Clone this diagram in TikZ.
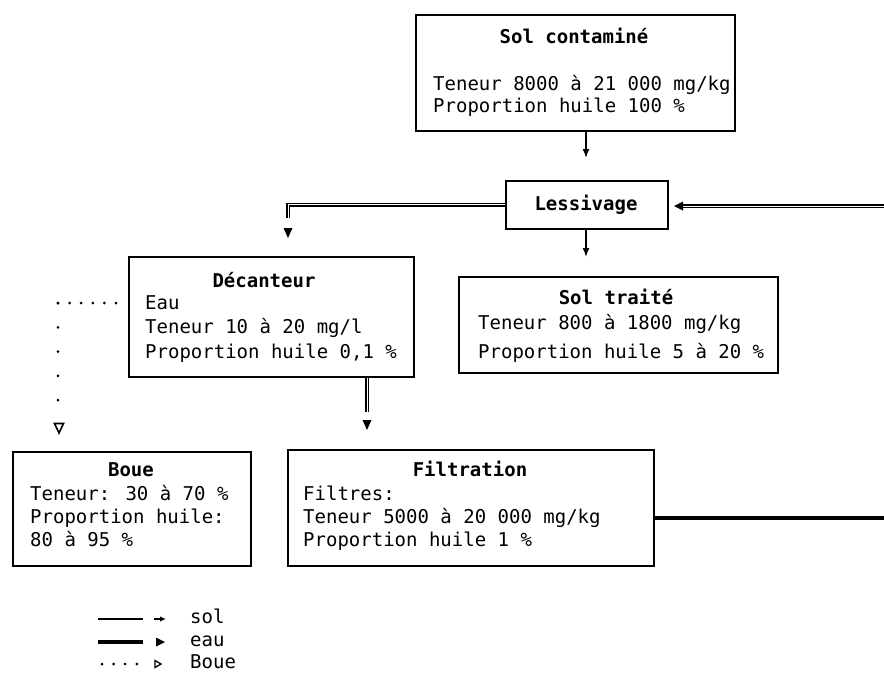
\documentclass[tikz,border=0pt]{standalone}
\usepackage{fontspec}
\newfontfamily\monof{DejaVu Sans Mono}
\usetikzlibrary{arrows.meta}
\begin{document}
\begin{tikzpicture}[x=1pt,y=-1pt,
  box/.style={draw, line width=1.6pt, anchor=north west, inner sep=0pt},
  ttl/.style={font=\monof\bfseries\fontsize{19}{24}\selectfont, anchor=base, inner sep=0pt},
  txt/.style={font=\monof\fontsize{19}{24}\selectfont, anchor=base west, inner sep=0pt},
  solline/.style={line width=1.6pt},
  eauline/.style={double, double distance=1pt, line width=1.4pt},
  eauthick/.style={line width=4.5pt},
  bouedots/.style={line width=3pt, line cap=round},
  soltip/.style={-{Latex[length=9pt,width=7pt]}}
]
\useasboundingbox (0,0) rectangle (884,673);

% boxes
\node[box, minimum width=319pt, minimum height=116pt] (sc) at (415,14) {};
\node[box, minimum width=162pt, minimum height=48pt] (les) at (505,180) {};
\node[box, minimum width=319pt, minimum height=96pt] (st) at (458,276) {};
\node[box, minimum width=285pt, minimum height=120pt] (dec) at (128,256) {};
\node[box, minimum width=238pt, minimum height=114pt] (boue) at (12,451) {};
\node[box, minimum width=366pt, minimum height=116pt] (fil) at (287,449) {};

% texts
\node[ttl] (sct) at (574,43) {Sol contaminé};
\node[txt] (sc1) at (433,90) {Teneur 8000 à 21 000 mg/kg};
\node[txt] (sc2) at (433,112) {Proportion huile 100 \%};

\node[ttl] (lest) at (586,210) {Lessivage};

\node[ttl] (stt) at (616,304) {Sol traité};
\node[txt] (st1) at (478,329) {Teneur 800 à 1800 mg/kg};
\node[txt] (st2) at (478,358) {Proportion huile 5 à 20 \%};

\node[ttl] (dect) at (264,287) {Décanteur};
\node[txt] (dec1) at (145,309) {Eau};
\node[txt] (dec2) at (145,333) {Teneur 10 à 20 mg/l};
\node[txt] (dec3) at (145,358) {Proportion huile 0,1 \%};

\node[ttl] (bouet) at (131,476) {Boue};
\node[txt] (boue1) at (30,500) {Teneur: 30 à 70 \%};
\node[txt] (boue2) at (30,523) {Proportion huile:};
\node[txt] (boue3) at (30,546) {80 à 95 \%};

\node[ttl] (filt) at (470,476) {Filtration};
\node[txt] (fil1) at (303,500) {Filtres:};
\node[txt] (fil2) at (303,523) {Teneur 5000 à 20 000 mg/kg};
\node[txt] (fil3) at (303,546) {Proportion huile 1 \%};

% sol connectors
\coordinate (c1) at (586,158);
\draw[solline, soltip] (c1 |- sc.south) -- (c1);
\coordinate (c2) at (586,257);
\draw[solline, soltip] (c2 |- les.south) -- (c2);

% water from the right into Lessivage
\coordinate (rin) at (884,206);
\coordinate (rtip) at (683,206);
\draw[eauline] (rin) -- (rtip);
\fill (683,201.5) -- (683,210.5) -- (674,206) -- cycle;

% water from Lessivage to Decanteur
\coordinate (ld) at (288,218);
\draw[eauline] (les.west) -| (ld);
\fill (283.5,228) -- (292.5,228) -- (288,238) -- cycle;

% water from Decanteur to Filtration
\coordinate (dd) at (367,412);
\draw[eauline] (dd |- dec.south) -- (dd);
\fill (362.5,420) -- (371.5,420) -- (367,430) -- cycle;

% sludge from Decanteur to Boue
\coordinate (dh) at (58,303);
\coordinate (ds) at (116,303);
\coordinate (dv) at (58,400.5);
\draw[bouedots, dash pattern=on 0pt off 11.6pt] (ds) -- (dh);
\draw[bouedots, dash pattern=on 0pt off 24.25pt] (dh) -- (dv);
\draw[line width=1.6pt, line join=miter] (54.5,423.5) -- (63.5,423.5) -- (59,433) -- cycle;

% water leaving Filtration
\coordinate (fr) at (884,518);
\draw[eauthick] (fil.east |- fr) -- (fr);

% legend
\coordinate (l1a) at (98,619);
\coordinate (l1b) at (143,619);
\draw[solline] (l1a) -- (l1b);
\draw[solline, -{Latex[length=6pt,width=5.5pt]}] (154,619) -- (166,619);
\node[txt] (lsol) at (190,623) {sol};

\coordinate (l2a) at (98,642);
\coordinate (l2b) at (143,642);
\draw[eauthick] (l2a) -- (l2b);
\fill (156,637.5) -- (156,646.5) -- (165,642) -- cycle;
\node[txt] (leau) at (190,646) {eau};

\coordinate (l3a) at (102,664);
\coordinate (l3b) at (137,664);
\draw[bouedots, dash pattern=on 0pt off 11.6pt] (l3a) -- (l3b);
\draw[line width=1.3pt] (155,660.5) -- (155,667.5) -- (161,664) -- cycle;
\node[txt] (lboue) at (190,668) {Boue};
\end{tikzpicture}
\end{document}
